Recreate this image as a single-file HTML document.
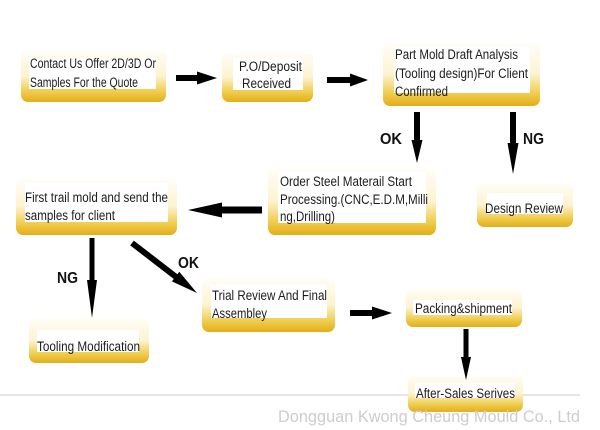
<!DOCTYPE html>
<html>
<head>
<meta charset="utf-8">
<style>
  html,body{margin:0;padding:0;background:#fff;}
  svg{display:block;}
  .t{font-family:"Liberation Sans",Arial,sans-serif;font-size:13.5px;fill:#1c1c1c;}
  .b{font-family:"Liberation Sans",Arial,sans-serif;font-size:16px;font-weight:bold;fill:#111;}
  .f{font-family:"Liberation Sans",Arial,sans-serif;font-size:16.5px;fill:#cdcdcd;}
</style>
</head>
<body>
<svg width="600" height="430" viewBox="0 0 600 430" xmlns="http://www.w3.org/2000/svg">
  <defs>
    <linearGradient id="g" x1="0" y1="0" x2="0" y2="1">
      <stop offset="0" stop-color="#fffef9"/>
      <stop offset="0.5" stop-color="#fcf3d0"/>
      <stop offset="0.78" stop-color="#f1cf55"/>
      <stop offset="1" stop-color="#e3ae18"/>
    </linearGradient>
  </defs>
  <rect width="600" height="430" fill="#ffffff"/>

  <!-- bottom separator line -->
  <rect x="0" y="394" width="580" height="2" fill="#e6e6e6"/>

  <!-- boxes -->
  <rect x="21" y="50" width="145" height="52" rx="7" fill="url(#g)"/>
  <rect x="29" y="58" width="127" height="31" fill="#fff"/>
  <rect x="222" y="52" width="91" height="50" rx="7" fill="url(#g)"/>
  <rect x="233" y="58" width="70" height="32" fill="#fff"/>
  <rect x="383" y="43" width="157" height="63" rx="7" fill="url(#g)"/>
  <rect x="394" y="47" width="136" height="46" fill="#fff"/>
  <rect x="268" y="168" width="168" height="67" rx="7" fill="url(#g)"/>
  <rect x="278" y="172" width="148" height="51" fill="#fff"/>
  <rect x="477" y="183" width="96" height="44" rx="7" fill="url(#g)"/>
  <rect x="487" y="193" width="76" height="21" fill="#fff"/>
  <rect x="16" y="178" width="161" height="57" rx="7" fill="url(#g)"/>
  <rect x="25" y="183" width="143" height="39" fill="#fff"/>
  <rect x="202" y="278" width="133" height="54" rx="7" fill="url(#g)"/>
  <rect x="211" y="285" width="116" height="33" fill="#fff"/>
  <rect x="406" y="288" width="116" height="39" rx="7" fill="url(#g)"/>
  <rect x="413" y="300" width="99" height="15" fill="#fff"/>
  <rect x="408" y="375" width="115" height="37" rx="7" fill="url(#g)"/>
  <rect x="415" y="383" width="100" height="15" fill="#fff"/>
  <rect x="29" y="318" width="120" height="45" rx="7" fill="url(#g)"/>
  <rect x="37" y="330" width="102" height="22" fill="#fff"/>

  <!-- box text -->
  <text class="t" x="30" y="68" textLength="126" lengthAdjust="spacingAndGlyphs">Contact Us Offer 2D/3D Or</text>
  <text class="t" x="30" y="87" textLength="108" lengthAdjust="spacingAndGlyphs">Samples For the Quote</text>

  <text class="t" x="239" y="71" textLength="63" lengthAdjust="spacingAndGlyphs">P.O/Deposit</text>
  <text class="t" x="242" y="88" textLength="49" lengthAdjust="spacingAndGlyphs">Received</text>

  <text class="t" x="395" y="59" textLength="123" lengthAdjust="spacingAndGlyphs">Part Mold Draft Analysis</text>
  <text class="t" x="395" y="78" textLength="133" lengthAdjust="spacingAndGlyphs">(Tooling design)For Client</text>
  <text class="t" x="395" y="96" textLength="53" lengthAdjust="spacingAndGlyphs">Confirmed</text>

  <text class="t" x="280" y="186" textLength="132" lengthAdjust="spacingAndGlyphs">Order Steel Materail Start</text>
  <text class="t" x="280" y="204" textLength="148" lengthAdjust="spacingAndGlyphs">Processing.(CNC,E.D.M,Milli</text>
  <text class="t" x="280" y="221" textLength="55" lengthAdjust="spacingAndGlyphs">ng,Drilling)</text>

  <text class="t" x="485" y="213" textLength="78" lengthAdjust="spacingAndGlyphs">Design Review</text>

  <text class="t" x="25" y="202" textLength="143" lengthAdjust="spacingAndGlyphs">First trail mold and send the</text>
  <text class="t" x="25" y="220" textLength="90" lengthAdjust="spacingAndGlyphs">samples for client</text>

  <text class="t" x="212" y="300" textLength="115" lengthAdjust="spacingAndGlyphs">Trial Review And Final</text>
  <text class="t" x="212" y="318" textLength="55" lengthAdjust="spacingAndGlyphs">Assembley</text>

  <text class="t" x="415" y="313" textLength="97" lengthAdjust="spacingAndGlyphs">Packing&amp;shipment</text>

  <text class="t" x="416" y="398" textLength="99" lengthAdjust="spacingAndGlyphs">After-Sales Serives</text>

  <text class="t" x="37" y="351" textLength="103" lengthAdjust="spacingAndGlyphs">Tooling Modification</text>

  <!-- arrows -->
  <g fill="#000">
    <polygon points="176,75 197,75 197,71.5 217,78 197,84.5 197,81 176,81"/>
    <polygon points="327,77 350,77 350,73.5 368,80 350,86.5 350,83 327,83"/>
    <polygon points="350,310 372,310 372,306.5 392,313 372,319.5 372,316 350,316"/>
    <polygon points="262,206.5 222,206.5 222,202.5 188,210 222,217.5 222,213.5 262,213.5"/>
    <polygon points="414,112 420,112 420,140 422.5,140 417,163 411.5,140 414,140"/>
    <polygon points="510,112 516,112 516,143 518.5,143 513,174 507.5,143 510,143"/>
    <polygon points="89.5,238 94.5,238 94.5,280 97,280 92,318 87,280 89.5,280"/>
    <polygon points="463.5,329 468.5,329 468.5,357 471,357 466,380 461,357 463.5,357"/>
    <polygon points="133.8,240.6 177.4,274.2 179.3,271.8 197,293 171.9,281.4 173.8,279.0 130.2,245.4"/>
  </g>

  <!-- labels -->
  <text class="b" x="380" y="144" textLength="22" lengthAdjust="spacingAndGlyphs">OK</text>
  <text class="b" x="523" y="144" textLength="21" lengthAdjust="spacingAndGlyphs">NG</text>
  <text class="b" x="57" y="283" textLength="21" lengthAdjust="spacingAndGlyphs">NG</text>
  <text class="b" x="178" y="268" textLength="21" lengthAdjust="spacingAndGlyphs">OK</text>

  <!-- footer -->
  <text class="f" x="278" y="422" textLength="302" lengthAdjust="spacingAndGlyphs">Dongguan Kwong Cheung Mould Co., Ltd</text>
</svg>
</body>
</html>
